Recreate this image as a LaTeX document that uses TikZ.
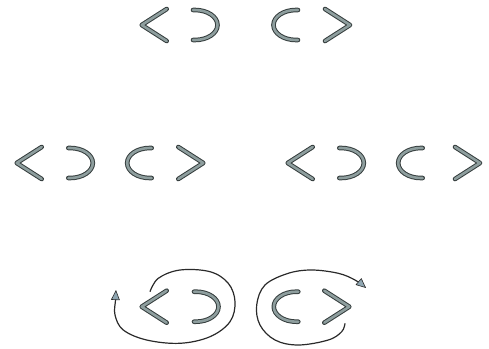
\documentclass[tikz,border=0pt]{standalone}
\usetikzlibrary{arrows.meta}
\definecolor{strokeout}{HTML}{353D3D}
\definecolor{strokein}{HTML}{8E9E9E}
\definecolor{loopc}{HTML}{2A2A2A}
\definecolor{tipfill}{HTML}{8FA6B2}
\begin{document}
\begin{tikzpicture}[x=0.5pt,y=-0.5pt,
  glyph/.style={draw=strokeout, line width=0.5pt, double=strokein, double distance=1.3pt, line cap=round, line join=round},
  loopline/.style={draw=loopc, line width=0.6pt,
    -{Triangle[length=5pt,width=4.4pt,fill=tipfill,line width=0.3pt]}},
  pics/ltri/.style={code={\draw[glyph] (25,-16) -- (0,0) -- (25,16);}},
  pics/gtri/.style={code={\draw[glyph] (-25,-16) -- (0,0) -- (-25,16);}},
  pics/rcup/.style={code={\draw[glyph] (0,-15) -- ++(2,0) arc[start angle=-90,end angle=90,x radius=22.5,y radius=15] -- ++(-2,0);}},
  pics/lcup/.style={code={\draw[glyph] (25,-15) -- ++(-2,0) arc[start angle=-90,end angle=-270,x radius=22.5,y radius=15] -- ++(2,0);}}
]
\useasboundingbox (0,0) rectangle (489,349);
% top row
\pic at (141.7,25) {ltri};
\pic at (193,25) {rcup};
\pic at (273,25) {lcup};
\pic at (350,25) {gtri};
% middle row, left group
\pic at (16.7,163) {ltri};
\pic at (68.3,163) {rcup};
\pic at (126.7,163) {lcup};
\pic at (203.3,163) {gtri};
% middle row, right group
\pic at (287.7,163) {ltri};
\pic at (339.3,163) {rcup};
\pic at (397.7,163) {lcup};
\pic at (480,163) {gtri};
% bottom row
\pic at (141.7,306.7) {ltri};
\pic at (194,306.7) {rcup};
\pic at (273.3,306.7) {lcup};
\pic at (349.3,306.7) {gtri};
% loops
\draw[loopline] plot[smooth,tension=0.6] coordinates {
  (150,291.7) (158.3,278.3) (180,270) (210,271.7) (228.3,283.3) (235,301.7)
  (230,321.7) (210,336.7) (180,343.3) (146.7,340) (123.3,330) (115,315) (115.5,300) (116,290)};
\draw[loopline] plot[smooth,tension=0.6] coordinates {
  (345,323.3) (341.7,331.7) (328.3,340) (298.3,345) (275,340) (260,325)
  (256.7,305) (265,285) (288.3,273.3) (311.7,270) (338.3,273.3) (355,280) (366,288)};
\end{tikzpicture}
\end{document}
